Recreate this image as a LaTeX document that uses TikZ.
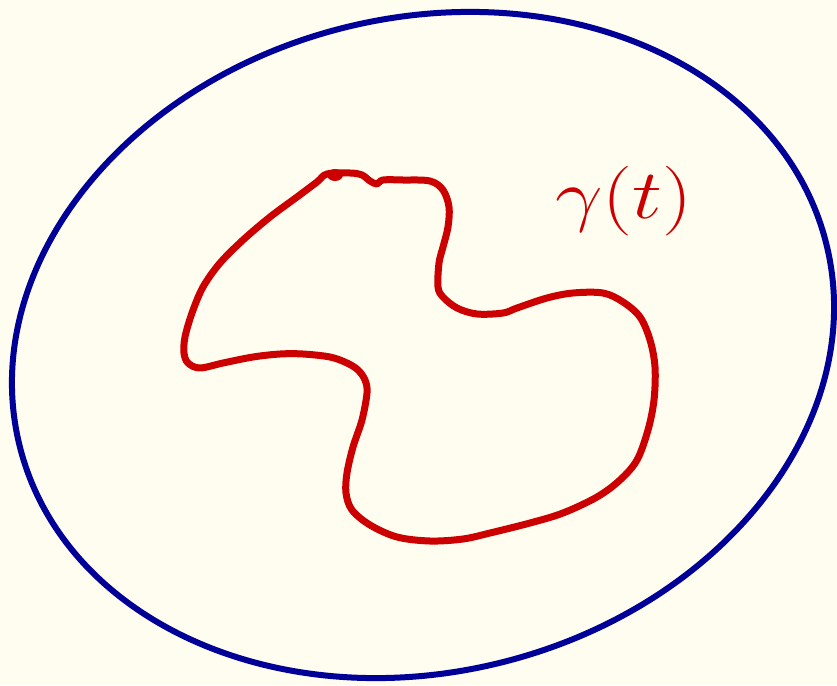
\documentclass[tikz,border=0pt]{standalone}
\usepackage{xcolor}
\usepackage{graphicx}
\definecolor{bgcream}{HTML}{FEFDEF}
\definecolor{inkblue}{HTML}{000099}
\definecolor{inkred}{HTML}{CC0000}
\begin{document}
\begin{tikzpicture}[x=1pt,y=-1pt,
  outerline/.style={draw=inkblue,line width=6pt},
  curveline/.style={draw=inkred,line width=7pt,line cap=round,line join=round},
  labeltext/.style={text=inkred,inner sep=0pt,anchor=base,font=\Huge}]
\fill[bgcream] (0,0) rectangle (837,685);
\useasboundingbox (0,0) rectangle (837,685);
% region boundary
\draw[outerline,rotate around={14.2:(423,345)}] (423,345) ellipse [x radius=415.8, y radius=327];
% closed curve gamma
\draw[curveline] plot[smooth cycle,tension=0.55] coordinates {
 (327,174) (350,173) (362,175) (370,181) (377,184) (383,180) (403,180) (430,181)
 (443,190) (449,207) (448,227) (443,247) (439,263) (438,287) (443,297) (457,308)
 (477,314) (503,313) (517,308) (547,298) (573,293) (603,293) (623,302) (640,317)
 (650,340) (655,367) (654,400) (648,430) (637,460) (620,480) (597,497) (563,513)
 (530,523) (490,533) (463,539) (430,541) (397,537) (370,525) (352,510) (346,493)
 (347,473) (353,447) (362,420) (367,393) (365,380) (358,370) (347,363) (330,357)
 (303,354) (280,354) (253,357) (223,363) (200,368) (188,363) (184,353) (185,337)
 (192,313) (203,287) (220,263) (243,240) (270,217) (297,197) (317,182)};
\fill[inkred] (335,175) ellipse [x radius=8, y radius=6];
% label
\node[labeltext] (gammalabel) at (624,218) {\scalebox{3.4}[2.8]{$\gamma(t)$}};
\end{tikzpicture}
\end{document}
